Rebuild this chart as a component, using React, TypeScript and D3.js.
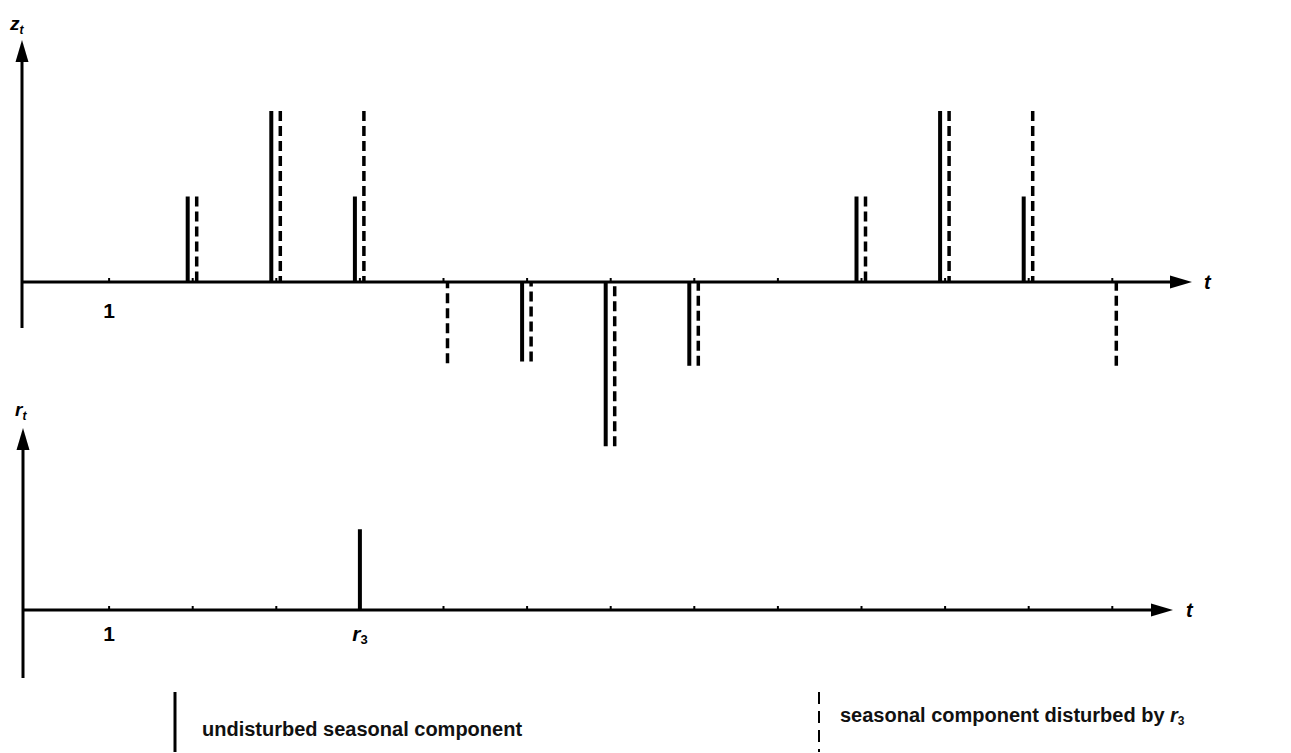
import React from "react";
import * as d3 from "d3";

// time index of the seasonal series
const periods = [1, 2, 3, 4, 5, 6, 7, 8, 9, 10, 11, 12, 13];
// undisturbed seasonal component z_t
const undisturbed = [0, 1.0, 2.0, 1.0, 0, -0.93, -1.92, -0.98, 0, 1.0, 2.0, 1.0, 0];
// seasonal component disturbed by r_3
const disturbed = [0, 1.0, 2.0, 2.0, -0.95, -0.93, -1.92, -0.98, 0, 1.0, 2.0, 2.0, -0.98];
// disturbance series r_t
const disturbance = [0, 0, 0, 0.95, 0, 0, 0, 0, 0, 0, 0, 0, 0];
const xTickLabelsTop = [{ t: 1, label: "1" }];
const xTickLabelsBottom = [{ t: 1, label: "1" }, { t: 4, label: "r", sub: "3" }];
const legendItems = ["undisturbed seasonal component", "seasonal component disturbed by "];

const W = 1291;
const H = 753;
const FONT = "'Liberation Sans', Arial, Helvetica, sans-serif";

export default function App() {
  const x = d3.scaleLinear().domain([0, 14]).range([25.5, 25.5 + 83.6 * 14]);
  const yTop = d3.scaleLinear().domain([-2, 2]).range([282 + 2 * 85.5, 282 - 2 * 85.5]);
  const yBot = d3.scaleLinear().domain([0, 1]).range([610, 610 - 85]);

  const axisColor = "#000";
  const solidOff = -5;
  const dashOff = 4;

  const arrowUp = (cx: number, tip: number) =>
    `M${cx},${tip} L${cx - 6.5},${tip + 22} L${cx + 6.5},${tip + 22} Z`;
  const arrowRight = (tip: number, cy: number) =>
    `M${tip},${cy} L${tip - 22},${cy - 6.5} L${tip - 22},${cy + 6.5} Z`;

  return (
    <svg
      width={W}
      height={H}
      style={{ position: "absolute", left: 0, top: 0, background: "#fff" }}
      fontFamily={FONT}
    >
      <rect x={0} y={0} width={W} height={H} fill="#fff" />

      {/* ===== Top panel ===== */}
      <text x={10} y={30} fontSize={19} fontWeight="bold" fontStyle="italic">
        z<tspan fontSize={12} dy={4}>t</tspan>
      </text>
      <line x1={22} x2={22} y1={55} y2={328} stroke={axisColor} strokeWidth={3} />
      <path d={arrowUp(22, 40)} fill={axisColor} />
      <line x1={22} x2={1175} y1={yTop(0)} y2={yTop(0)} stroke={axisColor} strokeWidth={3} />
      <path d={arrowRight(1192, yTop(0))} fill={axisColor} />
      <text x={1204} y={yTop(0) + 7} fontSize={20} fontWeight="bold" fontStyle="italic">t</text>
      {periods.map((t) => (
        <line key={"tt" + t} x1={x(t)} x2={x(t)} y1={yTop(0)} y2={yTop(0) - 4} stroke="#000" strokeWidth={2} />
      ))}
      {xTickLabelsTop.map((d) => (
        <text key={"tl" + d.t} x={x(d.t)} y={318} fontSize={21} fontWeight="bold" textAnchor="middle">
          {d.label}
        </text>
      ))}
      {periods.map((t, i) =>
        undisturbed[i] !== 0 ? (
          <line
            key={"s" + t}
            x1={x(t) + solidOff}
            x2={x(t) + solidOff}
            y1={yTop(0)}
            y2={yTop(undisturbed[i])}
            stroke="#000"
            strokeWidth={4}
          />
        ) : null
      )}
      {periods.map((t, i) =>
        disturbed[i] !== 0 ? (
          <line
            key={"d" + t}
            x1={x(t) + dashOff}
            x2={x(t) + dashOff}
            y1={yTop(disturbed[i])}
            y2={yTop(0)}
            stroke="#000"
            strokeWidth={3.5}
            strokeDasharray="10,5"
          />
        ) : null
      )}

      {/* ===== Bottom panel ===== */}
      <text x={15} y={416} fontSize={19} fontWeight="bold" fontStyle="italic">
        r<tspan fontSize={12} dy={4}>t</tspan>
      </text>
      <line x1={23} x2={23} y1={442} y2={678} stroke={axisColor} strokeWidth={3} />
      <path d={arrowUp(23, 428)} fill={axisColor} />
      <line x1={23} x2={1156} y1={yBot(0)} y2={yBot(0)} stroke={axisColor} strokeWidth={3} />
      <path d={arrowRight(1173, yBot(0))} fill={axisColor} />
      <text x={1186} y={yBot(0) + 7} fontSize={20} fontWeight="bold" fontStyle="italic">t</text>
      {periods.map((t) => (
        <line key={"bt" + t} x1={x(t)} x2={x(t)} y1={yBot(0)} y2={yBot(0) - 4} stroke="#000" strokeWidth={2} />
      ))}
      {xTickLabelsBottom.map((d) => (
        <text key={"bl" + d.t} x={x(d.t)} y={641} fontSize={21} fontWeight="bold" textAnchor="middle"
          fontStyle={d.sub ? "italic" : "normal"}>
          {d.label}
          {d.sub ? <tspan fontSize={13} dy={3} fontStyle="normal">{d.sub}</tspan> : null}
        </text>
      ))}
      {periods.map((t, i) =>
        disturbance[i] !== 0 ? (
          <line key={"r" + t} x1={x(t)} x2={x(t)} y1={yBot(0)} y2={yBot(disturbance[i])} stroke="#000" strokeWidth={4} />
        ) : null
      )}

      {/* ===== Legend ===== */}
      <line x1={175} x2={175} y1={692} y2={752} stroke="#000" strokeWidth={3} />
      <text x={202} y={736} fontSize={20} fontWeight="bold" fill="#111">{legendItems[0]}</text>
      <line x1={819} x2={819} y1={692} y2={752} stroke="#000" strokeWidth={2} strokeDasharray="12,7" />
      <text x={840} y={722} fontSize={20} fontWeight="bold" fill="#111">
        {legendItems[1]}
        <tspan fontStyle="italic">r</tspan>
        <tspan fontSize={12} dy={3}>3</tspan>
      </text>
    </svg>
  );
}
